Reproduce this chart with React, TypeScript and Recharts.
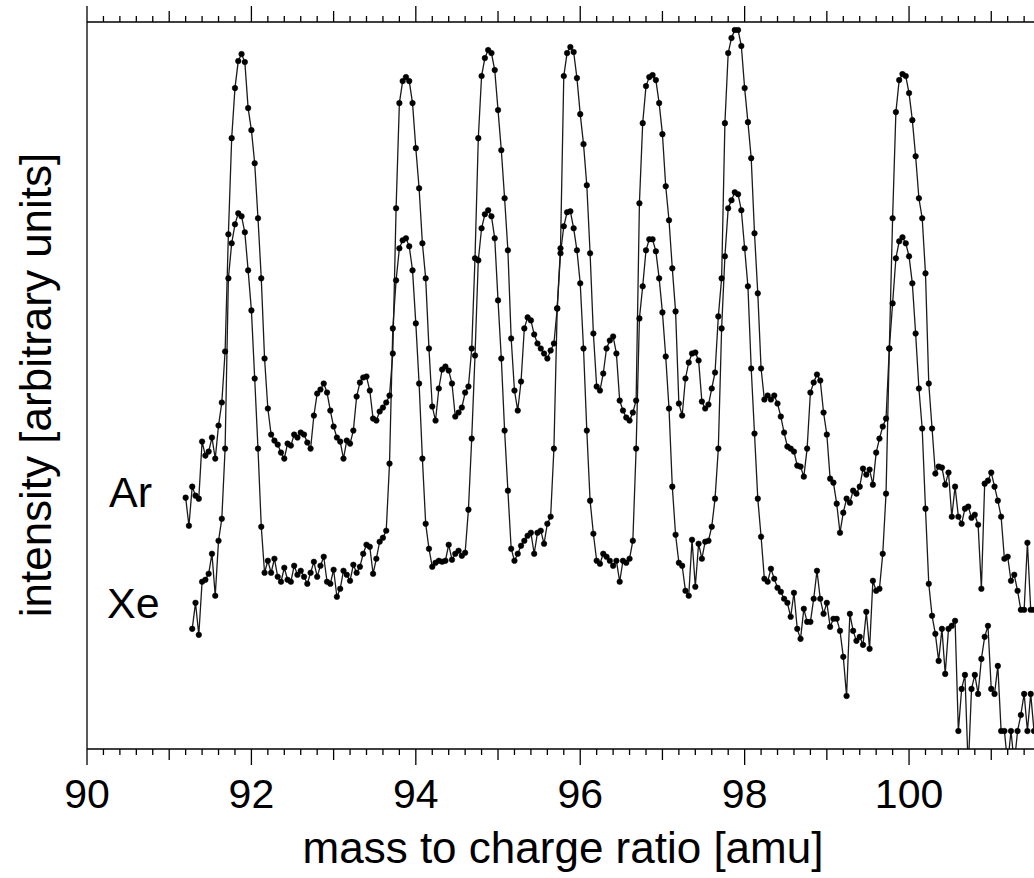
import React from 'react';
import { LineChart, Line, XAxis, YAxis } from 'recharts';

const W = 1034;
const H = 878;
const LEFT = 87;
const TOP = 22;
const BOTTOM_Y = 749;
const FONT = '"Liberation Sans", Arial, Helvetica, sans-serif';

const MAJOR_TICKS = [90, 92, 94, 96, 98, 100];
const X_DOMAIN: [number, number] = [90, 101.52];
const Y_DOMAIN: [number, number] = [0, 726];
const X_TITLE = 'mass to charge ratio [amu]';
const Y_TITLE = 'intensity [arbitrary units]';
const SERIES_LABELS = ['Ar', 'Xe'];

const MASS = [
  91.20, 91.24, 91.28, 91.32, 91.36, 91.40, 91.44, 91.48, 91.52, 91.56, 91.60, 91.64, 91.68, 91.72, 91.76, 91.80, 91.84, 91.88, 91.92, 91.96, 92.00, 92.04, 92.08, 92.12, 92.16,
  92.20, 92.24, 92.28, 92.32, 92.36, 92.40, 92.44, 92.48, 92.52, 92.56, 92.60, 92.64, 92.68, 92.72, 92.76, 92.80, 92.84, 92.88, 92.92, 92.96, 93.00, 93.04, 93.08, 93.12, 93.16,
  93.20, 93.24, 93.28, 93.32, 93.36, 93.40, 93.44, 93.48, 93.52, 93.56, 93.60, 93.64, 93.68, 93.72, 93.76, 93.80, 93.84, 93.88, 93.92, 93.96, 94.00, 94.04, 94.08, 94.12, 94.16,
  94.20, 94.24, 94.28, 94.32, 94.36, 94.40, 94.44, 94.48, 94.52, 94.56, 94.60, 94.64, 94.68, 94.72, 94.76, 94.80, 94.84, 94.88, 94.92, 94.96, 95.00, 95.04, 95.08, 95.12, 95.16,
  95.20, 95.24, 95.28, 95.32, 95.36, 95.40, 95.44, 95.48, 95.52, 95.56, 95.60, 95.64, 95.68, 95.72, 95.76, 95.80, 95.84, 95.88, 95.92, 95.96, 96.00, 96.04, 96.08, 96.12, 96.16,
  96.20, 96.24, 96.28, 96.32, 96.36, 96.40, 96.44, 96.48, 96.52, 96.56, 96.60, 96.64, 96.68, 96.72, 96.76, 96.80, 96.84, 96.88, 96.92, 96.96, 97.00, 97.04, 97.08, 97.12, 97.16,
  97.20, 97.24, 97.28, 97.32, 97.36, 97.40, 97.44, 97.48, 97.52, 97.56, 97.60, 97.64, 97.68, 97.72, 97.76, 97.80, 97.84, 97.88, 97.92, 97.96, 98.00, 98.04, 98.08, 98.12, 98.16,
  98.20, 98.24, 98.28, 98.32, 98.36, 98.40, 98.44, 98.48, 98.52, 98.56, 98.60, 98.64, 98.68, 98.72, 98.76, 98.80, 98.84, 98.88, 98.92, 98.96, 99.00, 99.04, 99.08, 99.12, 99.16,
  99.20, 99.24, 99.28, 99.32, 99.36, 99.40, 99.44, 99.48, 99.52, 99.56, 99.60, 99.64, 99.68, 99.72, 99.76, 99.80, 99.84, 99.88, 99.92, 99.96, 100.00, 100.04, 100.08, 100.12, 100.16,
  100.20, 100.24, 100.28, 100.32, 100.36, 100.40, 100.44, 100.48, 100.52, 100.56, 100.60, 100.64, 100.68, 100.72, 100.76, 100.80, 100.84, 100.88, 100.92, 100.96, 101.00, 101.04, 101.08, 101.12, 101.16,
  101.20, 101.24, 101.28, 101.32, 101.36, 101.40, 101.44, 101.48, 101.52,
];

const AR = [
  251, 223, 262, 253, 250, 307, 293, 297, 311, 290, 323, 346, 397, 514, 610, 660, 687, 694, 686, 640, 618, 585, 530, 470, 390,
  340, 314, 308, 304, 296, 290, 305, 303, 314, 311, 316, 314, 306, 300, 333, 355, 359, 365, 356, 338, 322, 311, 307, 290, 308,
  305, 318, 352, 366, 371, 372, 358, 330, 328, 337, 341, 346, 353, 395, 540, 645, 667, 671, 667, 645, 600, 560, 505, 470, 400,
  342, 328, 360, 379, 382, 378, 365, 332, 336, 341, 356, 362, 400, 490, 610, 672, 690, 698, 695, 678, 638, 598, 550, 498, 410,
  358, 338, 367, 420, 431, 428, 414, 405, 400, 395, 390, 398, 405, 440, 500, 672, 695, 701, 696, 670, 634, 604, 563, 495, 415,
  362, 358, 375, 400, 408, 412, 395, 348, 338, 331, 328, 336, 348, 545, 625, 662, 671, 673, 668, 645, 614, 562, 528, 480, 437,
  345, 333, 370, 386, 395, 396, 388, 347, 340, 344, 360, 376, 432, 470, 625, 695, 710, 718, 718, 702, 660, 626, 590, 515, 455,
  380, 349, 353, 349, 353, 345, 332, 316, 302, 300, 297, 283, 282, 272, 300, 356, 366, 374, 368, 336, 314, 270, 266, 245, 216,
  236, 250, 246, 258, 255, 262, 280, 274, 279, 264, 296, 310, 322, 330, 400, 530, 636, 668, 674, 672, 655, 628, 592, 550, 530,
  475, 365, 320, 275, 282, 281, 264, 276, 232, 262, 232, 225, 240, 242, 231, 234, 224, 160, 265, 268, 276, 262, 248, 232, 190,
  192, 168, 174, 158, 139, 139, 206, 139, 139,
];

const XE = [
  null, null, 120, 146, 114, 167, 169, 175, 195, 153, 208, 230, 300, 470, 505, 524, 535, 532, 516, 478, 438, 370, 300, 222, 176,
  188, 176, 190, 172, 167, 181, 169, 167, 183, 174, 178, 172, 165, 176, 187, 172, 183, 192, 167, 165, 179, 152, 160, 178, 174,
  168, 184, 176, 182, 195, 204, 202, 175, 190, 207, 211, 218, 285, 420, 468, 500, 508, 510, 502, 478, 425, 365, 290, 225, 200,
  182, 186, 188, 187, 188, 204, 189, 195, 198, 193, 196, 239, 310, 393, 488, 520, 534, 538, 532, 510, 448, 390, 318, 258, 200,
  188, 195, 203, 208, 213, 216, 195, 216, 218, 205, 225, 232, 300, 440, 495, 522, 536, 537, 520, 498, 465, 400, 318, 248, 215,
  188, 185, 195, 192, 188, 183, 188, 167, 188, 186, 190, 208, 300, 430, 462, 498, 509, 509, 497, 470, 436, 392, 340, 262, 214,
  186, 183, 158, 153, 209, 162, 205, 190, 207, 208, 222, 250, 300, 420, 492, 540, 548, 556, 554, 538, 500, 462, 380, 315, 250,
  212, 170, 167, 180, 170, 161, 157, 150, 146, 132, 156, 120, 110, 140, 127, 127, 150, 178, 150, 135, 146, 122, 130, 130, 118,
  92, 53, 135, 118, 108, 112, 104, 137, 100, 168, 158, 160, 195, 255, 400, 445, 490, 507, 511, 505, 492, 465, 415, 360, 320,
  240, 165, 133, 115, 88, 120, 75, 120, 123, 128, 18, 60, 74, -20, 60, 74, 55, 90, 112, 123, 60, 55, 83, 18, 18,
  -15, 18, -15, 18, 34, 55, 18, 55, 18,
];

const data = MASS.map((m, i) => ({ m, ar: AR[i], xe: XE[i] }));

const ALL_TICKS: number[] = [];
for (let k = 0; k <= 57; k++) ALL_TICKS.push(Math.round((90 + k * 0.2) * 10) / 10);

const tickLen = (v: number) => {
  const r = Math.round(v);
  if (Math.abs(v - r) < 1e-6) return r % 2 === 0 ? 16 : 11;
  return 6;
};
const isMajor = (v: number) => MAJOR_TICKS.some((t) => Math.abs(t - v) < 1e-6);

function BottomTick(props: any) {
  const { x, payload } = props;
  const v = payload.value as number;
  return (
    <g>
      <line x1={x} x2={x} y1={BOTTOM_Y} y2={BOTTOM_Y + tickLen(v)} stroke="#000" strokeWidth={1.3} />
      {isMajor(v) && (
        <text x={x} y={BOTTOM_Y + 59} textAnchor="middle" fontSize={41} fontFamily={FONT} fill="#000">
          {v}
        </text>
      )}
    </g>
  );
}

function TopTick(props: any) {
  const { x, payload } = props;
  const v = payload.value as number;
  return <line x1={x} x2={x} y1={TOP} y2={TOP - tickLen(v)} stroke="#000" strokeWidth={1.3} />;
}

const renderXTitle = () => (
  <text x={563} y={863} textAnchor="middle" fontSize={44} fontFamily={FONT} fill="#000">
    {X_TITLE}
  </text>
);

const renderYLabels = () => (
  <g>
    <text
      transform={`translate(51, 385) rotate(-90)`}
      textAnchor="middle"
      fontSize={44}
      fontFamily={FONT}
      fill="#000"
    >
      {Y_TITLE}
    </text>
    <text x={109} y={507} fontSize={43} fontFamily={FONT} fill="#000">
      {SERIES_LABELS[0]}
    </text>
    <text x={107} y={618} fontSize={43} fontFamily={FONT} fill="#000">
      {SERIES_LABELS[1]}
    </text>
  </g>
);

const dotStyle = { r: 2.8, fill: '#000', stroke: '#000', strokeWidth: 0.5 };

export default function App() {
  return (
    <div style={{ position: 'absolute', left: 0, top: 0, width: W, height: H, background: '#fff' }}>
      <LineChart
        width={W}
        height={H}
        data={data}
        margin={{ top: TOP - 1, right: 0, bottom: H - BOTTOM_Y - 1, left: LEFT - 1 }}
      >
        <XAxis
          xAxisId="bottom"
          dataKey="m"
          type="number"
          domain={X_DOMAIN}
          allowDataOverflow
          ticks={ALL_TICKS}
          interval={0}
          height={1}
          tickSize={0}
          tickMargin={0}
          tickLine={false}
          tick={<BottomTick />}
          axisLine={{ stroke: '#000', strokeWidth: 1.3 }}
          label={renderXTitle}
        />
        <XAxis
          xAxisId="top"
          orientation="top"
          dataKey="m"
          type="number"
          domain={X_DOMAIN}
          allowDataOverflow
          ticks={ALL_TICKS}
          interval={0}
          height={1}
          tickSize={0}
          tickMargin={0}
          tickLine={false}
          tick={<TopTick />}
          axisLine={{ stroke: '#000', strokeWidth: 1.3 }}
        />
        <YAxis
          yAxisId="left"
          type="number"
          domain={Y_DOMAIN}
          allowDataOverflow
          width={1}
          tick={false}
          tickLine={false}
          axisLine={{ stroke: '#000', strokeWidth: 1.3 }}
          label={renderYLabels}
        />
        <Line
          xAxisId="bottom"
          yAxisId="left"
          type="linear"
          dataKey="ar"
          stroke="#1a1a1a"
          strokeWidth={1.3}
          dot={dotStyle}
          activeDot={false}
          isAnimationActive={false}
        />
        <Line
          xAxisId="bottom"
          yAxisId="left"
          type="linear"
          dataKey="xe"
          stroke="#1a1a1a"
          strokeWidth={1.3}
          dot={dotStyle}
          activeDot={false}
          isAnimationActive={false}
        />
      </LineChart>
    </div>
  );
}
